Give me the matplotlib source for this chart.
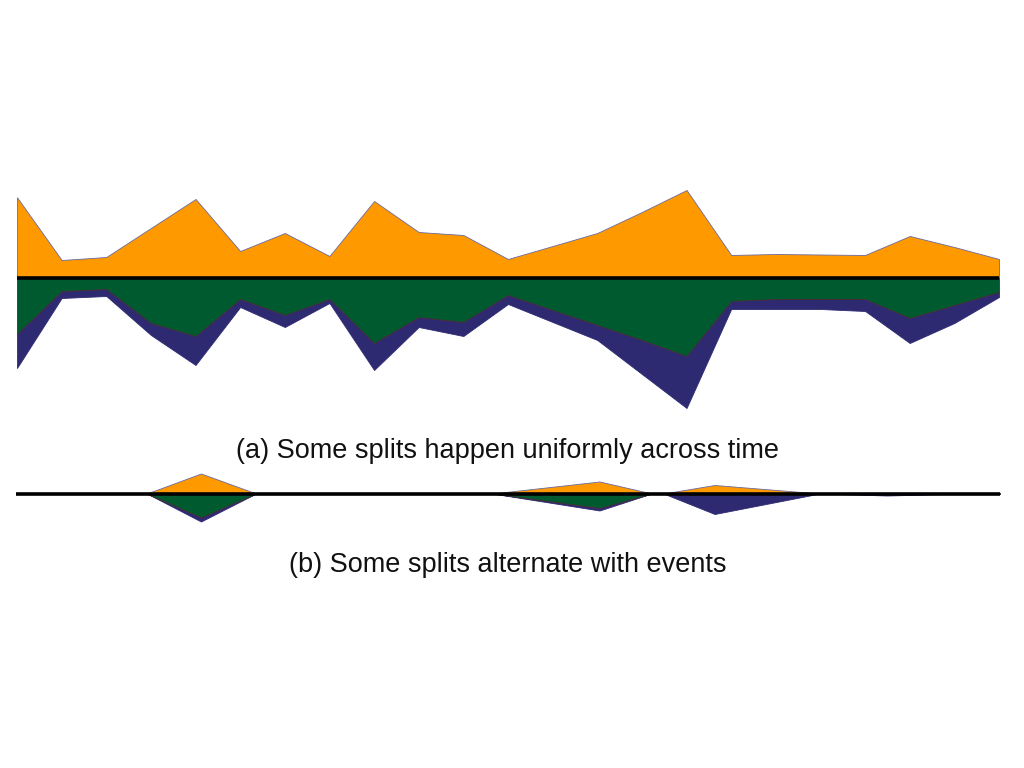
# coding:utf-8
# 2段のストリーム風グラフ (上: オレンジ / 下: 緑 + 紺)
import numpy as np
from matplotlib import pyplot as plt

# (a) 一定間隔の時間ステップ
steps_a = np.arange(23)
orange_a = [80.7, 18, 21, 50, 79, 27, 45, 22, 77, 46, 43, 19,
            32, 45, 66, 88, 23, 24, 23.5, 23, 42, 31, 19]
green_a = [56, 13, 11, 45, 58, 21, 37, 21, 65, 39, 44, 17,
           32, 47, 62, 78, 23, 21, 21, 21, 40, 27, 14]
navy_a = [34, 7, 7, 12, 29, 8, 12, 4, 27, 10, 14, 9,
          12, 15, 34, 52, 8, 10, 10, 12, 25, 18, 5]

# (b) イベントのある時刻 (0-100)
time_b = [0, 13.3, 18.8, 24.4, 48.4, 59.3, 64.6, 65.8, 71.0, 81.7, 88.5, 96.9, 100]
orange_b = [0, 0, 20, 0, 0, 12, 0, 0, 8.5, 0, 0, 0, 0]
green_b = [0, 0, 24, 0, 0, 14.5, 0, 0, 0, 0, 0, 0, 0]
navy_b = [0, 0, 4, 0, 0, 2.5, 0, 0, 20.5, 0, 2, 0, 0]

captions = ["(a) Some splits happen uniformly across time",
            "(b) Some splits alternate with events"]

ORANGE = "#ff9900"
GREEN = "#005a30"
NAVY = "#2e2a72"

plt.rcParams['font.family'] = ['Liberation Sans', 'DejaVu Sans']


def draw_stream(ax, x, up, down1, down2):
    x = np.asarray(x, dtype=float)
    up = np.asarray(up, dtype=float)
    d1 = np.asarray(down1, dtype=float)
    d2 = np.asarray(down2, dtype=float)
    ax.fill_between(x, 0, up, facecolor=ORANGE, edgecolor="#6a6aa0", lw=0.6)
    ax.fill_between(x, -d1, -(d1 + d2), facecolor=NAVY, edgecolor=NAVY, lw=0.6)
    ax.fill_between(x, 0, -d1, facecolor=GREEN, edgecolor="#4a2a30", lw=0.6)
    ax.axhline(0, color="black", lw=2.6, zorder=5)
    ax.set_xlim(x[0], x[-1])
    ax.axis("off")


fig = plt.figure(figsize=(10.24, 7.68), dpi=100)

# 上のパネル: 基準線 y=278px
ax_a = fig.add_axes([17 / 1024, 1 - 420 / 768, 982 / 1024, 240 / 768])
draw_stream(ax_a, steps_a, orange_a, green_a, navy_a)
ax_a.set_ylim(-142, 98)

# 下のパネル: 基準線 y=493.5px
ax_b = fig.add_axes([16 / 1024, 1 - 525 / 768, 984 / 1024, 60 / 768])
draw_stream(ax_b, time_b, orange_b, green_b, navy_b)
ax_b.set_ylim(-31.5, 28.5)

fig.text(508 / 1024, 1 - 451 / 768, captions[0], ha="center", va="center",
         fontsize=19.5, color="#111111")
fig.text(508 / 1024, 1 - 565 / 768, captions[1], ha="center", va="center",
         fontsize=19.5, color="#111111")

fig.savefig("out.png", dpi=100)
